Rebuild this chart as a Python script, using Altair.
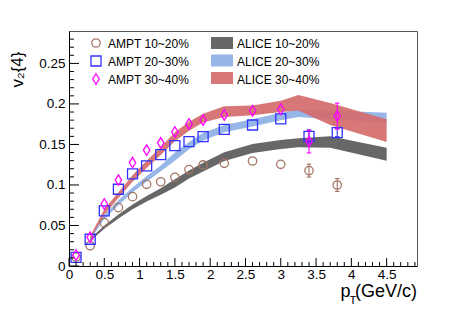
import altair as alt
import pandas as pd

# ---------------- data ----------------
pt_ampt = [0.1, 0.3, 0.5, 0.7, 0.9, 1.1, 1.3, 1.5, 1.7, 1.9, 2.2, 2.6, 3.0, 3.4, 3.8]
ampt_10_20 = [0.011, 0.025, 0.0535, 0.072, 0.0856, 0.1008, 0.104, 0.1095, 0.119, 0.1247, 0.1267, 0.1296, 0.1255, 0.1177, 0.100]
ampt_20_30 = [0.0107, 0.033, 0.068, 0.0947, 0.1136, 0.1235, 0.1374, 0.1486, 0.1535, 0.1597, 0.1687, 0.174, 0.1815, 0.160, 0.1646]
ampt_30_40 = [0.0136, 0.0354, 0.0765, 0.106, 0.1276, 0.143, 0.152, 0.1654, 0.1753, 0.180, 0.1864, 0.1917, 0.1934, 0.1535, 0.185]
err_10_20 = [0, 0, 0, 0, 0, 0, 0, 0, 0, 0, 0, 0, 0, 0.008, 0.008]
err_20_30 = [0, 0, 0, 0, 0, 0, 0, 0, 0, 0, 0, 0, 0, 0.008, 0.005]
err_30_40 = [0, 0, 0, 0, 0, 0, 0, 0, 0, 0, 0, 0, 0, 0.014, 0.016]

pt_alice = [0.3, 0.5, 0.7, 0.9, 1.1, 1.3, 1.5, 1.7, 1.9, 2.2, 2.6, 3.0, 3.25, 3.7, 4.5]
alice_10_20_lo = [0.0305, 0.046, 0.0585, 0.070, 0.0795, 0.088, 0.097, 0.108, 0.1165, 0.1295, 0.1395, 0.1445, 0.1465, 0.146, 0.130]
alice_10_20_hi = [0.0335, 0.050, 0.0635, 0.076, 0.0865, 0.096, 0.107, 0.118, 0.1275, 0.1405, 0.1505, 0.1555, 0.1575, 0.160, 0.146]
alice_20_30_lo = [0.032, 0.058, 0.075, 0.091, 0.104, 0.117, 0.130, 0.144, 0.155, 0.165, 0.172, 0.180, 0.184, 0.181, 0.177]
alice_20_30_hi = [0.036, 0.063, 0.081, 0.097, 0.111, 0.124, 0.140, 0.153, 0.164, 0.174, 0.181, 0.189, 0.193, 0.192, 0.189]
alice_30_40_lo = [0.033, 0.063, 0.084, 0.104, 0.121, 0.137, 0.154, 0.167, 0.177, 0.184, 0.186, 0.190, 0.192, 0.174, 0.153]
alice_30_40_hi = [0.037, 0.070, 0.091, 0.112, 0.130, 0.147, 0.165, 0.178, 0.188, 0.197, 0.198, 0.204, 0.211, 0.201, 0.181]

x_major = [0, 0.5, 1, 1.5, 2, 2.5, 3, 3.5, 4, 4.5]
x_minor = [round(i * 0.1, 1) for i in range(50) if i % 5 != 0]
y_major = [0, 0.05, 0.1, 0.15, 0.2, 0.25]
y_minor = [round(i * 0.01, 2) for i in range(29) if i % 5 != 0]

amp_labels = ["AMPT 10~20%", "AMPT 20~30%", "AMPT 30~40%"]
alice_labels = ["ALICE 10~20%", "ALICE 20~30%", "ALICE 30~40%"]

# ---------------- style ----------------
W, H = 348, 235
XMAX, YMAX = 4.93, 0.29
FONT = "Liberation Sans"
C_CIRC, C_SQ, C_DIA = "#a37565", "#3030ff", "#ff00ff"
C_BLK, C_BLU, C_RED = "#5a5a5a", "#8db0e6", "#d46b6b"
DIAMOND = "M0,-1L0.62,0L0,1L-0.62,0Z"

xs = alt.Scale(domain=[0, XMAX], nice=False, zero=False)
ys = alt.Scale(domain=[0, YMAX], nice=False, zero=False)

def X(f):
    return alt.X(f, type="quantitative", scale=xs,
                 axis=alt.Axis(values=x_major, format="~g", title=None, ticks=False, grid=False,
                               domainColor="black", labelFont=FONT, labelFontSize=13.5,
                               labelColor="black", labelPadding=1, labelFlush=False,
                               labelOverlap=False))

def Y(f):
    return alt.Y(f, type="quantitative", scale=ys,
                 axis=alt.Axis(values=y_major, format="~g", title=None, ticks=False, grid=False,
                               domainColor="black", labelFont=FONT, labelFontSize=13.5,
                               labelColor="black", labelPadding=4, labelOverlap=False))

layers = []

# bands
for lo, hi, col in [(alice_10_20_lo, alice_10_20_hi, C_BLK),
                    (alice_20_30_lo, alice_20_30_hi, C_BLU),
                    (alice_30_40_lo, alice_30_40_hi, C_RED)]:
    df = pd.DataFrame({"pt": pt_alice, "lo": lo, "hi": hi})
    layers.append(alt.Chart(df).mark_area(color=col, opacity=0.92).encode(
        x=X("pt"), y=Y("lo"), y2="hi"))

# AMPT markers + error bars
for vals, errs, col, shape, size in [(ampt_10_20, err_10_20, C_CIRC, "circle", 70),
                                     (ampt_20_30, err_20_30, C_SQ, "square", 100),
                                     (ampt_30_40, err_30_40, C_DIA, DIAMOND, 110)]:
    df = pd.DataFrame({"pt": pt_ampt, "v": vals, "e": errs})
    df["lo"] = df["v"] - df["e"]
    df["hi"] = df["v"] + df["e"]
    de = df[df["e"] > 0]
    layers.append(alt.Chart(de).mark_rule(color=col, strokeWidth=1.1).encode(
        x=X("pt"), y=Y("lo"), y2="hi"))
    for end in ["lo", "hi"]:
        layers.append(alt.Chart(de).mark_point(shape="M-1,0L1,0", size=20, color=col,
                                               strokeWidth=1.1, opacity=1).encode(
            x=X("pt"), y=Y(end)))
    layers.append(alt.Chart(df).mark_point(shape=shape, size=size, color=col, filled=False,
                                           strokeWidth=1.3, opacity=1).encode(
        x=X("pt"), y=Y("v")))

# ticks inside the frame
layers.append(alt.Chart(pd.DataFrame({"t": x_major})).mark_rule(color="black").encode(
    x=X("t"), y=alt.value(H), y2=alt.value(H - 8)))
layers.append(alt.Chart(pd.DataFrame({"t": x_minor})).mark_rule(color="black").encode(
    x=X("t"), y=alt.value(H), y2=alt.value(H - 4)))
layers.append(alt.Chart(pd.DataFrame({"t": y_major})).mark_rule(color="black").encode(
    y=Y("t"), x=alt.value(0), x2=alt.value(10)))
layers.append(alt.Chart(pd.DataFrame({"t": y_minor})).mark_rule(color="black").encode(
    y=Y("t"), x=alt.value(0), x2=alt.value(5)))

# legend
rows = [12, 30, 48]
one = pd.DataFrame({"a": [0]})
for i, (lab, col, shape, size) in enumerate(zip(amp_labels, [C_CIRC, C_SQ, C_DIA],
                                                ["circle", "square", DIAMOND], [70, 100, 110])):
    layers.append(alt.Chart(one).mark_point(shape=shape, size=size, color=col, filled=False,
                                            strokeWidth=1.3, opacity=1).encode(
        x=alt.value(27), y=alt.value(rows[i])))
    layers.append(alt.Chart(one).mark_text(text=lab, align="left", baseline="middle",
                                           font=FONT, fontSize=12, color="black").encode(
        x=alt.value(39), y=alt.value(rows[i] + 0.5)))
rows2 = [12, 29.5, 47]
for i, (lab, col) in enumerate(zip(alice_labels, [C_BLK, C_BLU, C_RED])):
    layers.append(alt.Chart(one).mark_rect(color=col, opacity=0.92).encode(
        x=alt.value(142), x2=alt.value(164), y=alt.value(rows2[i] - 6), y2=alt.value(rows2[i] + 6)))
    layers.append(alt.Chart(one).mark_text(text=lab, align="left", baseline="middle",
                                           font=FONT, fontSize=12, color="black").encode(
        x=alt.value(168), y=alt.value(rows[i] + 0.5)))

# axis titles
layers.append(alt.Chart(one).mark_text(text="v₂{4}", align="center", baseline="alphabetic",
                                       angle=270, font=FONT, fontSize=17, color="black").encode(
    x=alt.value(-46), y=alt.value(38.5)))
layers.append(alt.Chart(one).mark_text(text="p", align="left", baseline="alphabetic",
                                       font=FONT, fontSize=18, color="black").encode(
    x=alt.value(271.5), y=alt.value(265.5)))
layers.append(alt.Chart(one).mark_text(text="T", align="left", baseline="alphabetic",
                                       font=FONT, fontSize=11.5, color="black").encode(
    x=alt.value(280.5), y=alt.value(273)))
layers.append(alt.Chart(one).mark_text(text="(GeV/c)", align="right", baseline="alphabetic",
                                       font=FONT, fontSize=18, color="black").encode(
    x=alt.value(348), y=alt.value(265.5)))

chart = alt.layer(*layers).properties(
    width=W, height=H,
    autosize=alt.AutoSizeParams(type="none"),
    padding={"left": 61, "top": 23, "right": 38, "bottom": 44},
    background="white",
).configure_view(stroke="#555555", strokeWidth=1).configure_axis(domainWidth=1)

chart.save("out.html", embed_options={"renderer": "svg", "actions": False})
